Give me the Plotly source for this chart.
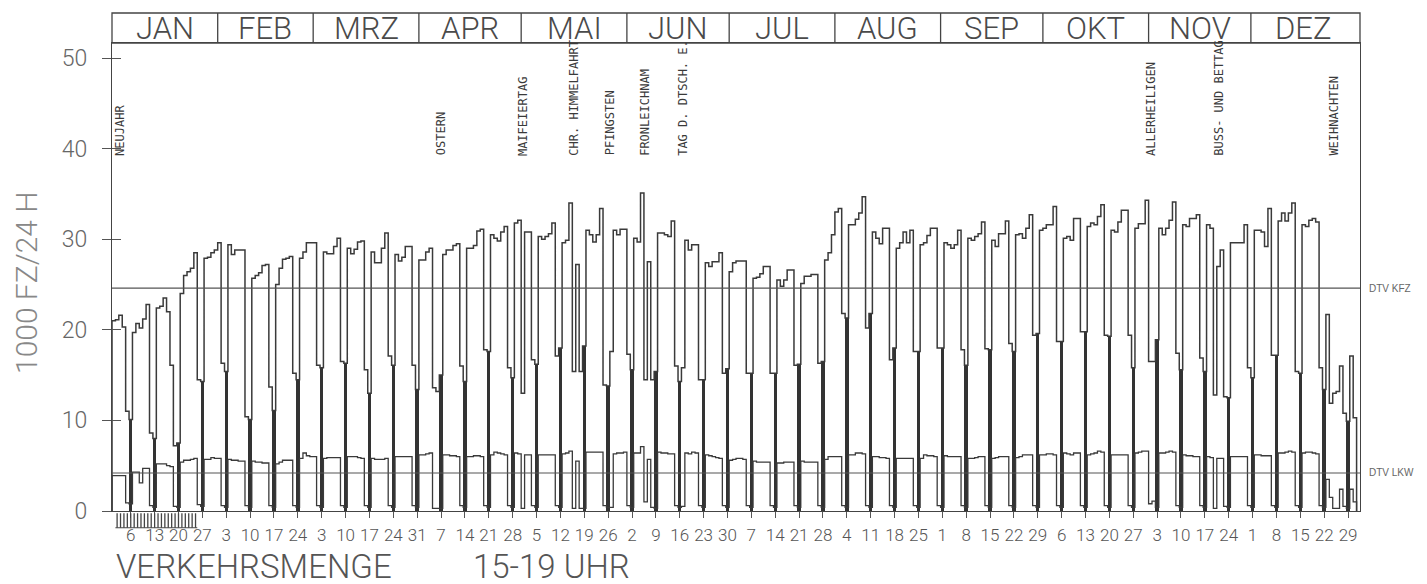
import plotly.graph_objects as go

# ---------------- data (1985, daily values, 1000 vehicles) ----------------
months = ["JAN", "FEB", "MRZ", "APR", "MAI", "JUN", "JUL", "AUG", "SEP", "OKT", "NOV", "DEZ"]
month_days = [31, 28, 31, 30, 31, 30, 31, 31, 30, 31, 30, 31]

# KFZ (all vehicles) per week, Mon..Sun (first week starts Tue Jan 1, last ends Tue Dec 31)
kfz_weeks = [
    [21.0, 21.1, 21.6, 20.3, 11.0, 10.1],
    [19.7, 20.7, 20.2, 21.2, 22.8, 8.6, 8.0],
    [22.4, 22.6, 23.5, 22.0, 16.1, 7.2, 7.5],
    [24.0, 26.0, 26.4, 26.8, 28.5, 14.5, 14.3],
    [27.9, 28.0, 28.5, 28.8, 29.6, 16.3, 15.4],
    [29.4, 28.3, 28.8, 28.8, 28.8, 10.4, 10.1],
    [25.7, 26.0, 26.3, 27.1, 27.2, 13.7, 11.1],
    [25.0, 26.8, 27.8, 27.9, 28.1, 15.2, 14.5],
    [27.9, 28.6, 29.6, 29.6, 29.6, 16.1, 15.8],
    [28.6, 28.4, 28.4, 29.2, 30.1, 16.5, 16.3],
    [29.0, 28.4, 28.9, 29.7, 29.8, 15.6, 13.0],
    [28.6, 27.4, 27.4, 29.0, 30.7, 17.1, 16.1],
    [28.3, 27.6, 28.0, 29.2, 29.2, 16.1, 13.4],
    [27.7, 27.7, 28.6, 29.0, 13.6, 13.2, 15.0],
    [28.3, 28.8, 28.8, 29.3, 29.5, 16.0, 14.3],
    [29.0, 29.0, 29.3, 30.9, 31.1, 17.8, 17.6],
    [30.5, 30.1, 29.8, 30.8, 31.4, 15.8, 14.7],
    [31.8, 32.1, 13.0, 30.8, 30.8, 16.7, 16.2],
    [30.3, 30.0, 30.3, 30.6, 31.8, 17.1, 18.0],
    [29.6, 29.9, 34.0, 15.4, 27.2, 15.4, 18.2],
    [31.0, 30.5, 29.7, 30.5, 33.4, 13.9, 13.8],
    [17.6, 31.0, 30.5, 31.1, 31.1, 17.3, 15.6],
    [30.1, 29.7, 35.1, 14.5, 27.5, 14.5, 15.4],
    [30.7, 30.7, 30.5, 30.3, 32.0, 16.0, 14.3],
    [15.8, 29.9, 28.8, 29.4, 29.4, 14.5, 14.5],
    [27.4, 27.0, 27.5, 27.5, 28.5, 15.2, 15.7],
    [26.4, 27.4, 27.6, 27.6, 27.6, 15.2, 15.2],
    [25.7, 25.8, 26.2, 27.0, 27.0, 15.2, 15.2],
    [25.5, 24.8, 25.5, 26.6, 26.6, 16.1, 16.2],
    [25.1, 25.9, 25.9, 26.1, 26.1, 16.3, 16.5],
    [27.7, 28.5, 30.5, 33.0, 33.4, 21.8, 21.3],
    [31.6, 31.6, 32.2, 32.9, 34.7, 20.2, 21.8],
    [30.8, 30.1, 29.5, 31.2, 31.2, 16.7, 18.0],
    [29.0, 29.6, 30.8, 29.6, 31.0, 17.6, 17.6],
    [29.4, 29.6, 30.4, 31.2, 31.2, 18.0, 18.0],
    [29.6, 29.4, 29.0, 29.4, 31.0, 17.8, 16.1],
    [30.1, 29.9, 30.3, 30.6, 31.9, 17.9, 17.8],
    [29.9, 29.2, 30.6, 30.6, 32.0, 18.5, 17.6],
    [30.5, 30.6, 30.1, 31.2, 32.7, 19.4, 19.6],
    [31.0, 31.2, 31.6, 31.6, 33.6, 18.7, 18.7],
    [30.1, 30.3, 29.9, 32.3, 32.3, 19.8, 19.8],
    [31.4, 31.8, 31.6, 32.5, 33.8, 19.4, 19.3],
    [31.0, 30.8, 31.9, 33.2, 33.2, 19.4, 15.8],
    [31.2, 31.7, 31.7, 34.3, 16.5, 16.5, 18.9],
    [31.2, 30.5, 31.2, 32.1, 34.1, 17.4, 15.6],
    [31.6, 31.4, 32.3, 32.3, 32.7, 16.9, 15.4],
    [31.6, 31.2, 12.8, 27.0, 28.8, 12.6, 12.5],
    [29.6, 29.6, 29.6, 29.6, 31.6, 15.8, 14.7],
    [31.0, 31.0, 30.8, 29.2, 33.4, 17.2, 17.2],
    [32.0, 32.9, 32.0, 32.9, 34.0, 15.4, 15.2],
    [31.6, 31.4, 32.1, 32.3, 31.9, 15.8, 13.4],
    [21.7, 11.9, 13.0, 13.2, 16.0, 10.8, 9.9],
    [17.1, 10.3],
]

# LKW (trucks) per week, Mon..Sun
lkw_weeks = [
    [3.9, 3.9, 3.9, 3.9, 0.9, 0.8],
    [4.3, 4.3, 3.1, 4.7, 4.7, 0.6, 0.4],
    [5.2, 5.2, 5.2, 5.0, 4.9, 0.5, 0.4],
    [5.4, 5.6, 5.6, 5.7, 5.8, 0.7, 0.5],
    [5.7, 5.7, 5.9, 5.8, 5.8, 0.6, 0.4],
    [5.7, 5.6, 5.6, 5.5, 5.5, 0.6, 0.4],
    [5.5, 5.4, 5.4, 5.3, 5.3, 0.6, 0.4],
    [5.2, 5.4, 5.6, 5.6, 5.6, 0.6, 0.4],
    [5.8, 6.4, 6.1, 6.0, 6.0, 0.6, 0.4],
    [5.8, 5.9, 5.9, 5.9, 5.9, 0.6, 0.4],
    [6.0, 6.0, 6.0, 5.9, 5.8, 0.6, 0.4],
    [5.8, 5.7, 5.7, 5.7, 5.8, 0.6, 0.4],
    [6.0, 6.0, 6.0, 6.0, 6.0, 0.6, 0.4],
    [6.2, 6.2, 6.3, 6.4, 0.3, 0.3, 0.3],
    [6.2, 6.2, 6.1, 6.1, 6.0, 0.6, 0.4],
    [6.0, 6.0, 6.1, 6.1, 6.0, 0.6, 0.4],
    [6.2, 6.5, 6.4, 6.3, 6.2, 0.6, 0.4],
    [6.4, 6.3, 0.3, 6.2, 6.2, 0.6, 0.4],
    [6.2, 6.2, 6.2, 6.2, 6.2, 0.6, 0.4],
    [6.3, 6.4, 6.6, 0.3, 5.5, 0.3, 0.3],
    [6.5, 6.5, 6.5, 6.5, 6.5, 0.6, 0.4],
    [0.4, 6.3, 6.4, 6.4, 6.5, 0.6, 0.4],
    [6.4, 6.4, 7.1, 1.0, 5.7, 0.4, 0.3],
    [6.5, 6.4, 6.4, 6.3, 6.3, 0.6, 0.4],
    [0.5, 6.4, 6.3, 6.5, 6.4, 0.6, 0.4],
    [6.2, 6.1, 6.0, 5.9, 5.8, 0.6, 0.4],
    [5.6, 5.7, 5.8, 5.8, 5.7, 0.6, 0.4],
    [5.5, 5.4, 5.4, 5.4, 5.4, 0.6, 0.4],
    [5.3, 5.3, 5.4, 5.4, 5.4, 0.6, 0.4],
    [5.5, 5.4, 5.4, 5.4, 5.4, 0.6, 0.4],
    [5.7, 6.0, 6.0, 6.0, 6.0, 0.6, 0.4],
    [6.2, 6.2, 6.4, 6.4, 6.3, 0.6, 0.4],
    [6.0, 6.0, 5.9, 5.9, 5.8, 0.6, 0.4],
    [5.8, 5.8, 5.8, 5.8, 5.8, 0.6, 0.4],
    [5.8, 6.2, 6.1, 6.1, 6.0, 0.6, 0.4],
    [6.1, 6.0, 6.0, 6.0, 6.0, 0.6, 0.4],
    [5.8, 5.8, 5.9, 6.0, 6.0, 0.6, 0.4],
    [5.8, 5.9, 6.0, 6.0, 6.0, 0.6, 0.4],
    [5.9, 6.0, 6.2, 6.2, 6.2, 0.6, 0.4],
    [6.2, 6.2, 6.3, 6.3, 6.2, 0.6, 0.4],
    [6.4, 6.3, 6.2, 6.4, 6.4, 0.6, 0.4],
    [6.2, 6.3, 6.4, 6.6, 6.5, 0.6, 0.4],
    [6.2, 6.2, 6.2, 6.2, 6.2, 0.6, 0.4],
    [6.4, 6.5, 6.6, 6.6, 0.8, 1.1, 0.4],
    [6.4, 6.4, 6.5, 6.6, 6.5, 0.6, 0.4],
    [6.2, 6.1, 6.1, 6.0, 6.0, 0.6, 0.4],
    [6.0, 5.9, 0.3, 5.8, 5.8, 0.5, 0.4],
    [6.0, 6.0, 6.0, 6.0, 6.0, 0.6, 0.4],
    [6.2, 6.2, 6.1, 6.1, 6.1, 0.6, 0.4],
    [6.4, 6.4, 6.5, 6.6, 6.5, 0.6, 0.4],
    [6.4, 6.5, 6.5, 6.4, 6.3, 0.6, 0.4],
    [3.5, 1.5, 0.3, 0.3, 2.4, 0.5, 0.3],
    [2.4, 1.0],
]

dtv_kfz = 24.6
dtv_lkw = 4.2

sunday_labels = ["6", "13", "20", "27", "3", "10", "17", "24", "3", "10", "17", "24", "31",
                 "7", "14", "21", "28", "5", "12", "19", "26", "2", "9", "16", "23", "30",
                 "7", "14", "21", "28", "4", "11", "18", "25", "1", "8", "15", "22", "29",
                 "6", "13", "20", "27", "3", "10", "17", "24", "1", "8", "15", "22", "29"]

holiday_names = ["NEUJAHR", "OSTERN", "MAIFEIERTAG", "CHR. HIMMELFAHRT", "PFINGSTEN",
                 "FRONLEICHNAM", "TAG D. DTSCH. E.", "ALLERHEILIGEN", "BUSS- UND BETTAG",
                 "WEIHNACHTEN"]
holiday_days = [0, 96, 120, 135, 145, 156, 167, 304, 323, 358]   # day-of-year index (0 = Jan 1)
holiday_shift = [6, 0, 0, 0, 2, 0, 0, 0, 4, 0]

hatch_days = list(range(1, 25))   # marked days below the axis in January

# ---------------- derived ----------------
kfz = [v for w in kfz_weeks for v in w]
lkw = [v for w in lkw_weeks for v in w]
n = len(kfz)
days = list(range(n))
sundays = [d for d in days if (d - 5) % 7 == 0]

x_step = [0] + days + [n, n]
kfz_step = [0] + kfz + [kfz[-1], 0]
lkw_step = [0] + lkw + [lkw[-1], 0]

bounds = [0]
for m in month_days:
    bounds.append(bounds[-1] + m)

X_MAX = 366
Y_MAX = 51.66
PLOT_H = 468
hdr_top = 1 + 30 / PLOT_H

LINE = "#3a3a3a"
TXT = "#555555"
LIGHT = dict(family="Roboto, Noto Sans, sans-serif", weight=300)

fig = go.Figure()

fig.add_trace(go.Bar(
    x=[d + 0.5 for d in sundays], y=[kfz[d] for d in sundays], width=1.0,
    marker=dict(color="#333333", line=dict(width=0)), showlegend=False, hoverinfo="skip"))

fig.add_trace(go.Scatter(
    x=x_step, y=kfz_step, mode="lines", line=dict(color=LINE, width=1.5, shape="hv"),
    showlegend=False, hoverinfo="skip"))

fig.add_trace(go.Scatter(
    x=x_step, y=lkw_step, mode="lines", line=dict(color=LINE, width=1.3, shape="hv"),
    showlegend=False, hoverinfo="skip"))

# DTV reference lines (on the overlay axis that carries inner tick marks)
fig.add_trace(go.Scatter(
    x=[0, X_MAX], y=[dtv_kfz, dtv_kfz], mode="lines", yaxis="y2",
    line=dict(color="#555555", width=1.1), showlegend=False, hoverinfo="skip"))
fig.add_trace(go.Scatter(
    x=[0, X_MAX], y=[dtv_lkw, dtv_lkw], mode="lines", yaxis="y2",
    line=dict(color="#555555", width=1.1), showlegend=False, hoverinfo="skip"))

shapes = []
# hatch marks under the axis in January
hatch_lo = -1.85 / Y_MAX
for d in hatch_days:
    shapes.append(dict(type="line", xref="x", yref="paper", x0=d + 0.5, x1=d + 0.5,
                       y0=-0.25 / Y_MAX, y1=hatch_lo, line=dict(color="#444444", width=1.3)))
shapes.append(dict(type="line", xref="x", yref="paper",
                   x0=hatch_days[0], x1=hatch_days[-1] + 1,
                   y0=hatch_lo, y1=hatch_lo, line=dict(color="#444444", width=1.2)))
# month header box
shapes.append(dict(type="rect", xref="paper", yref="paper", x0=0, x1=1, y0=1, y1=hdr_top,
                   line=dict(color="#444444", width=1.3)))
for b in bounds[1:-1]:
    shapes.append(dict(type="line", xref="x", yref="paper", x0=b, x1=b, y0=1, y1=hdr_top,
                       line=dict(color="#444444", width=1.3)))

annotations = []
for i, name in enumerate(months):
    annotations.append(dict(
        x=(bounds[i] + bounds[i + 1]) / 2, xref="x", y=(1 + hdr_top) / 2, yref="paper",
        text=name, showarrow=False, xanchor="center", yanchor="middle",
        font=dict(size=31, color="#4a4a4a", **LIGHT)))

for name, d, sh in zip(holiday_names, holiday_days, holiday_shift):
    annotations.append(dict(
        x=d + 0.5, y=39.0, xref="x", yref="y", text=name, showarrow=False, textangle=-90,
        xanchor="center", yanchor="bottom", xshift=sh,
        font=dict(family="DejaVu Sans Mono, Liberation Mono, monospace", size=12, color="#3a3a3a")))

for txt, val in [("DTV KFZ", dtv_kfz), ("DTV LKW", dtv_lkw)]:
    annotations.append(dict(
        x=1, xref="paper", xshift=7, y=val, yref="y", text=txt, showarrow=False,
        xanchor="left", yanchor="middle",
        font=dict(family="Liberation Sans, Arial, sans-serif", size=10, color="#666666")))

annotations.append(dict(
    x=(18 - 104) / 1248, xref="paper", y=(503 - 275) / PLOT_H, yref="paper",
    text="1000 FZ/24 H", showarrow=False, textangle=-90, xanchor="center", yanchor="middle",
    font=dict(size=30, color="#888888", **LIGHT)))

annotations.append(dict(
    x=(106 - 104) / 1248, xref="paper", y=(503 - 558) / PLOT_H, yref="paper",
    text="VERKEHRSMENGE", showarrow=False, xanchor="left", yanchor="middle",
    font=dict(size=33, color="#555555", **LIGHT)))
annotations.append(dict(
    x=(463 - 104) / 1248, xref="paper", y=(503 - 558) / PLOT_H, yref="paper",
    text="15-19 UHR", showarrow=False, xanchor="left", yanchor="middle",
    font=dict(size=33, color="#555555", **LIGHT)))

fig.update_layout(
    width=1427, height=584, autosize=False,
    margin=dict(l=104, r=75, t=35, b=81, pad=0),
    paper_bgcolor="white", plot_bgcolor="white",
    barmode="overlay", bargap=0,
    shapes=shapes, annotations=annotations,
    xaxis=dict(
        range=[0, X_MAX], showgrid=False, zeroline=False,
        showline=True, mirror=True, linecolor="#444444", linewidth=1.3,
        tickmode="array", tickvals=[d + 0.5 for d in sundays], ticktext=sunday_labels,
        ticks="outside", ticklen=6, tickwidth=1, tickcolor="#555555",
        tickangle=0, ticklabelstandoff=2,
        tickfont=dict(size=17, color=TXT, **LIGHT)),
    yaxis=dict(
        range=[0, Y_MAX], showgrid=False, zeroline=False,
        showline=True, mirror=True, linecolor="#444444", linewidth=1.3,
        tickmode="array", tickvals=[0, 10, 20, 30, 40, 50],
        ticks="outside", ticklen=9, tickwidth=1.2, tickcolor="#555555",
        ticklabelstandoff=10,
        tickfont=dict(size=23, color="#666666", **LIGHT)),
    yaxis2=dict(
        range=[0, Y_MAX], overlaying="y", side="left", showgrid=False, zeroline=False,
        showline=False, tickmode="array", tickvals=[0, 10, 20, 30, 40, 50],
        ticks="inside", ticklen=9, tickwidth=1.2, tickcolor="#555555", showticklabels=False),
)

fig.write_html("out.html")
